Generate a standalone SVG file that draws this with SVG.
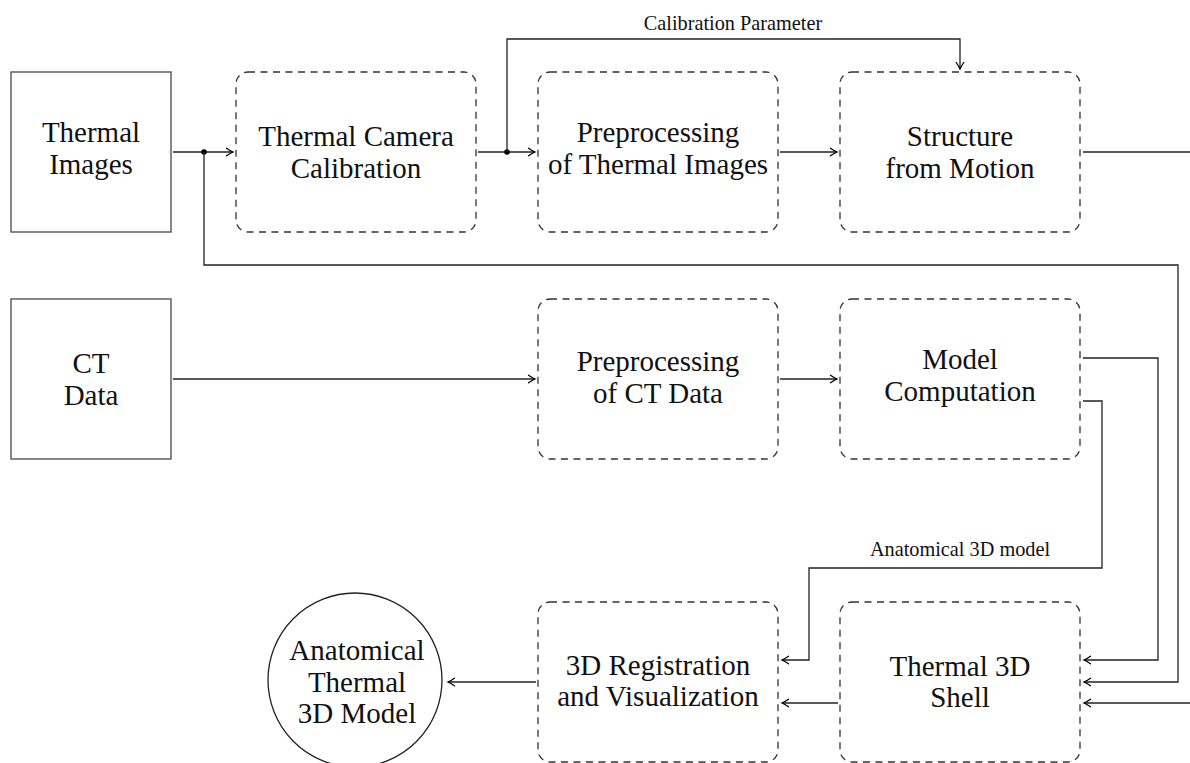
<svg xmlns="http://www.w3.org/2000/svg" width="1190" height="763" viewBox="0 0 1190 763">
<defs>
<marker id="arr" markerWidth="12" markerHeight="12" refX="8" refY="5" orient="auto" markerUnits="userSpaceOnUse" overflow="visible">
<path d="M1.5,1.2 Q5.5,4 8,5 Q5.5,6 1.5,8.8" fill="none" stroke="#000" stroke-width="1.3" stroke-linecap="round"/>
</marker>
<style>
.src{fill:#fff;stroke:#555;stroke-width:1.4}
.proc{fill:none;stroke:#333;stroke-width:1.3;stroke-dasharray:7 5.5}
.t{font-family:"Liberation Serif",serif;font-size:29px;fill:#111;text-anchor:middle}
.lbl{font-family:"Liberation Serif",serif;font-size:20.3px;fill:#111;text-anchor:middle}
.c{fill:none;stroke:#222;stroke-width:1.3}
.a{fill:none;stroke:#222;stroke-width:1.3;marker-end:url(#arr)}
.dot{fill:#000}
</style>
</defs>
<rect width="1190" height="763" fill="#fff"/>

<g id="connectors">
<line class="a" x1="173" y1="152" x2="233" y2="152"/>
<circle class="dot" cx="204" cy="152" r="2.8"/>
<line class="a" x1="478" y1="152" x2="535" y2="152"/>
<circle class="dot" cx="507" cy="152" r="2.8"/>
<polyline class="a" points="507,152 507,39 960,39 960,69"/>
<line class="a" x1="780" y1="152" x2="837" y2="152"/>
<line class="c" x1="1083" y1="152" x2="1190" y2="152"/>
<polyline class="a" points="204,152 204,265 1178,265 1178,682 1084,682"/>
<line class="a" x1="173" y1="379" x2="535" y2="379"/>
<line class="a" x1="780" y1="379" x2="837" y2="379"/>
<polyline class="a" points="1083,358 1158,358 1158,660 1084,660"/>
<polyline class="a" points="1083,401 1102,401 1102,568 809,568 809,660 782,660"/>
<line class="a" x1="1190" y1="703" x2="1084" y2="703"/>
<line class="a" x1="838" y1="703" x2="782" y2="703"/>
<line class="a" x1="536" y1="682" x2="448" y2="682"/>
<text class="lbl" x="733" y="30">Calibration Parameter</text>
<text class="lbl" x="960" y="556">Anatomical 3D model</text>
</g>

<g id="thermal-images">
<rect class="src" x="11" y="72" width="160" height="160"/>
<text class="t" x="91" y="142">Thermal</text>
<text class="t" x="91" y="174">Images</text>
</g>

<g id="camera-calibration">
<rect class="proc" x="236" y="72" width="240" height="160" rx="12"/>
<text class="t" x="356" y="146">Thermal Camera</text>
<text class="t" x="356" y="178">Calibration</text>
</g>

<g id="preproc-thermal">
<rect class="proc" x="538" y="72" width="240" height="160" rx="12"/>
<text class="t" x="658" y="142">Preprocessing</text>
<text class="t" x="658" y="174">of Thermal Images</text>
</g>

<g id="sfm">
<rect class="proc" x="840" y="72" width="240" height="160" rx="12"/>
<text class="t" x="960" y="146">Structure</text>
<text class="t" x="960" y="178">from Motion</text>
</g>

<g id="ct-data">
<rect class="src" x="11" y="299" width="160" height="160"/>
<text class="t" x="91" y="373">CT</text>
<text class="t" x="91" y="405">Data</text>
</g>

<g id="preproc-ct">
<rect class="proc" x="538" y="299" width="240" height="160" rx="12"/>
<text class="t" x="658" y="371">Preprocessing</text>
<text class="t" x="658" y="403">of CT Data</text>
</g>

<g id="model-computation">
<rect class="proc" x="840" y="299" width="240" height="160" rx="12"/>
<text class="t" x="960" y="369">Model</text>
<text class="t" x="960" y="401">Computation</text>
</g>

<g id="thermal-shell">
<rect class="proc" x="840" y="602" width="240" height="160" rx="12"/>
<text class="t" x="960" y="676">Thermal 3D</text>
<text class="t" x="960" y="707">Shell</text>
</g>

<g id="registration">
<rect class="proc" x="538" y="602" width="240" height="160" rx="12"/>
<text class="t" x="658" y="675">3D Registration</text>
<text class="t" x="658" y="706">and Visualization</text>
</g>

<g id="result-model">
<circle cx="355" cy="680" r="87" fill="#fff" stroke="#222" stroke-width="1.3"/>
<text class="t" x="357" y="660">Anatomical</text>
<text class="t" x="357" y="692">Thermal</text>
<text class="t" x="357" y="723">3D Model</text>
</g>
</svg>
